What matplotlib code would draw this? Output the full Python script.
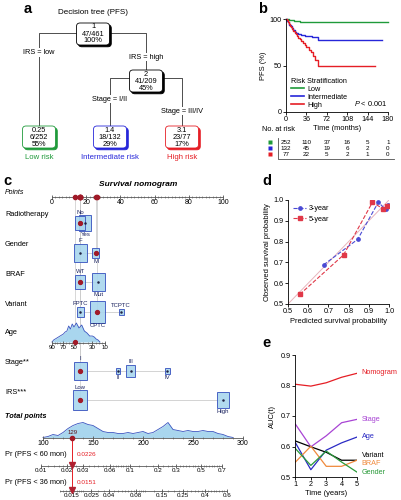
import numpy as np
import matplotlib
matplotlib.use("Agg")
import matplotlib.pyplot as plt
from matplotlib.patches import FancyBboxPatch, Rectangle
from matplotlib.lines import Line2D

plt.rcParams["font.family"] = ["Liberation Sans", "DejaVu Sans"]
plt.rcParams["mathtext.fontset"] = "custom"
plt.rcParams["mathtext.it"] = "Liberation Sans:italic"
plt.rcParams["mathtext.rm"] = "Liberation Sans"
plt.rcParams["font.size"] = 5.2
plt.rcParams["axes.linewidth"] = 0.6
for k in ("xtick", "ytick"):
    plt.rcParams[k + ".major.width"] = 0.6
    plt.rcParams[k + ".major.size"] = 2
    plt.rcParams[k + ".major.pad"] = 1.2
    plt.rcParams[k + ".labelsize"] = 5.2
plt.rcParams["axes.labelsize"] = 5.4
plt.rcParams["axes.labelpad"] = 1.5

W, H = 401, 500

# ---- a: decision tree ----
tree_ids = ["1", "2", "0.25", "1.4", "3.1"]
tree_events = ["47/461", "41/209", "6/252", "18/132", "23/77"]
tree_share = ["100%", "45%", "55%", "29%", "17%"]
tree_splits = ["IRS = low", "IRS = high", "Stage = I/II", "Stage = III/IV"]
risk_groups = ["Low risk", "Intermediate risk", "High risk"]

# ---- b: Kaplan-Meier PFS ----
km_low_t = [0, 2, 5, 9, 14, 18, 24, 180]
km_low_s = [100, 99.6, 99.2, 98.8, 98.0, 97.6, 97.2, 97.2]
km_int_t = [0, 2, 4, 6, 8, 10, 12, 15, 18, 22, 27, 33, 45, 57, 170]
km_int_s = [100, 98, 96.5, 94, 92, 90, 88, 86, 84.5, 83.5, 82.5, 81.5, 80.5, 77.5, 77.5]
km_high_t = [0, 1, 3, 5, 7, 9, 11, 13, 15, 17, 19, 21, 24, 27, 30, 33, 36, 40, 44, 48, 52, 57, 157]
km_high_s = [100, 98.5, 97, 95, 93, 91, 89, 87, 85, 84, 82, 80, 78, 76, 74, 72, 70, 67, 64, 60, 56, 50, 50]
risk_times = [0, 36, 72, 108, 144, 180]
at_risk_low = [252, 110, 37, 16, 5, 1]
at_risk_int = [132, 45, 19, 6, 2, 0]
at_risk_high = [77, 22, 5, 2, 1, 0]

# ---- c: nomogram ----
nomo_vars = ["Radiotherapy", "Gender", "BRAF", "Variant", "Stage**", "IRS***"]
nomo_levels = [["No", "Yes"], ["F", "M"], ["WT", "Mut"], ["FPTC", "CPTC", "TCPTC"],
               ["I", "II", "III", "IV"], ["Low", "High"]]
nomo_points = [[16.5, 19.5], [16.5, 25.5], [16.5, 27.0], [16.5, 26.5, 40.5],
               [16.5, 38.5, 46.0, 67.5], [16.5, 100.0]]
nomo_freq = [[0.34, 0.50], [0.56, 0.17], [0.34, 0.56], [0.17, 0.77, 0.085],
             [0.56, 0.06, 0.25, 0.06], [0.63, 0.50]]
nomo_selected = ["No", "M", "WT", "CPTC", "I", "Low"]
age_ticks = [90, 70, 50, 30, 10]
age_tick_points = [0, 6.3, 13.2, 23.6, 31.0]
age_bins = [18, 21, 24, 27, 30, 33, 36, 39, 42, 45, 48, 51, 54, 57, 60,
            63, 66, 69, 72, 75, 78, 81, 84, 87, 90]
age_counts = [0, 2, 3, 5, 6, 6, 9, 11, 17, 14, 19, 15, 18, 13, 16,
              11, 10, 8, 7, 6, 5, 4, 3, 2, 0]
patient_age = 50
total_bins = [100, 105, 110, 115, 120, 125, 130, 135, 140, 145, 150, 155, 160,
              165, 170, 175, 180, 185, 190, 195, 200, 205, 210, 215, 220, 225,
              230, 235, 240, 245, 250, 255, 260, 265, 270, 275, 280, 285, 290]
total_density = [0, 1, 3, 2, 5, 9, 12, 14, 15, 13, 12, 9, 6, 5, 5, 4, 4, 5, 4,
                 5, 6, 4, 5, 8, 11, 15, 8, 7, 6, 7, 6, 6, 7, 6, 6, 4, 3, 1, 0]
total_ticks = [100, 150, 200, 250, 300]
patient_total = 129
pr60_ticks = [0.01, 0.02, 0.03, 0.06, 0.1, 0.2, 0.3, 0.5, 0.7]
pr36_ticks = [0.015, 0.025, 0.04, 0.08, 0.15, 0.25, 0.4, 0.6]
patient_pr60 = 0.0226
patient_pr36 = 0.0151
lp_slope = 0.02644  # cloglog units per total point

# ---- d: calibration ----
cal3_pred = [0.676, 0.845, 0.947, 0.983, 0.993]
cal3_obs = [0.688, 0.811, 0.989, 0.955, 0.974]
cal5_pred = [0.558, 0.775, 0.918, 0.972, 0.988]
cal5_obs = [0.546, 0.736, 0.989, 0.957, 0.973]

# ---- e: time-dependent AUC ----
auc_years = [1, 2, 3, 4, 5]
auc_names = ["Nomogram", "Stage", "Age", "Variant", "BRAF", "Gender"]
auc_nomogram = [0.804, 0.798, 0.809, 0.827, 0.840]
auc_stage = [0.673, 0.599, 0.635, 0.678, 0.689]
auc_age = [0.612, 0.524, 0.588, 0.612, 0.631]
auc_variant = [0.618, 0.599, 0.581, 0.555, 0.555]
auc_braf = [0.549, 0.601, 0.535, 0.535, 0.555]
auc_gender = [0.593, 0.538, 0.585, 0.549, 0.516]

GREEN, BLUE, RED = "#1f9a3a", "#2626d9", "#e51e25"


def box(x0, y0, x1, y1):
    # pixel rectangle (origin top-left) -> figure fraction
    return [x0 / W, 1 - y1 / H, (x1 - x0) / W, (y1 - y0) / H]


fig = plt.figure(figsize=(W / 100, H / 100), dpi=100)

# =============== a ===============
ax_a = fig.add_axes(box(0, 0, 265, 165))
ax_a.set_xlim(0, 265)
ax_a.set_ylim(165, 0)
ax_a.axis("off")
ax_a.text(93, 13, "Decision tree (PFS)", ha="center", va="center", fontsize=5.8)

node_xy = [(93, 34), (146, 81), (39, 137), (110, 137), (182, 137)]
node_col = ["black", "black", GREEN, BLUE, RED]
edges = [(0, 2, 33), (0, 1, 33), (1, 3, 78), (1, 4, 78)]
split_frac = [0.21, 0.65, 0.44, 0.69]  # where each split label sits on its branch
for (a, b, yh), lab, fr in zip(edges, tree_splits, split_frac):
    xa, ya = node_xy[a]
    xb, yb = node_xy[b]
    ytop = yb - 11
    ax_a.plot([xa, xb, xb], [yh, yh, ytop], color="0.3", lw=0.7, zorder=1)
    ax_a.text(xb, yh + fr * (ytop - yh), lab, ha="center", va="center", fontsize=5.3,
              zorder=2, bbox=dict(fc="white", ec="none", pad=0.6))

for (x, y), c, i, e, s in zip(node_xy, node_col, tree_ids, tree_events, tree_share):
    w, h = 33, 22
    ax_a.add_patch(FancyBboxPatch((x - w / 2 + 1.8, y - h / 2 + 1.8), w, h,
                                  boxstyle="round,pad=0,rounding_size=3.5",
                                  fc=c, ec=c, lw=0.6, zorder=3))
    ax_a.add_patch(FancyBboxPatch((x - w / 2, y - h / 2), w, h,
                                  boxstyle="round,pad=0,rounding_size=3.5",
                                  fc="white", ec=c, lw=0.6, zorder=4))
    ax_a.text(x, y, f"{i}\n{e}\n{s}", ha="center", va="center", fontsize=5.3,
              linespacing=1.0, zorder=5)

for (x, y), c, name in zip(node_xy[2:], node_col[2:], risk_groups):
    ax_a.text(x, 157, name, ha="center", va="center", color=c, fontsize=5.6)

# =============== b ===============
ax_b = fig.add_axes(box(286, 19, 388, 112))
for t, s, c in [(km_low_t, km_low_s, GREEN), (km_int_t, km_int_s, BLUE),
                (km_high_t, km_high_s, RED)]:
    ax_b.step(t, s, where="post", color=c, lw=1.0, clip_on=False)
ax_b.set_xlim(0, 180)
ax_b.set_ylim(0, 100)
ax_b.set_xticks(risk_times)
ax_b.set_yticks([0, 50, 100])
ax_b.spines[["top", "right"]].set_visible(False)
ax_b.set_xlabel("Time (months)", labelpad=1)
ax_b.set_ylabel("PFS (%)", labelpad=2)
handles = [Line2D([], [], color=c, lw=1.2) for c in (GREEN, BLUE, RED)]
ax_b.legend(handles, ["Low", "Intermediate", "High"], title="Risk Stratification",
            loc="lower left", bbox_to_anchor=(0.0, -0.02), frameon=False,
            fontsize=5.2, title_fontsize=5.2, handlelength=1.8, handletextpad=0.4,
            labelspacing=0.12, borderpad=0.2, alignment="left")
ax_b.text(0.99, 0.09, r"$P$ < 0.001", transform=ax_b.transAxes, ha="right",
          va="center", fontsize=5.3)

mpm = 102 / 180  # px per month
ax_rt = fig.add_axes(box(262, 136, 395, 161))
ax_rt.set_xlim(-24 / mpm, 109 / mpm)
ax_rt.set_ylim(161, 136)
ax_rt.axis("off")
ax_rt.text(-24 / mpm, 130, "No. at risk", ha="left", va="center", fontsize=5.3)
for yy, row, c in zip([142, 148.2, 154.4], [at_risk_low, at_risk_int, at_risk_high],
                      [GREEN, BLUE, RED]):
    ax_rt.plot(-16 / mpm, yy, marker="s", ms=3.3, color=c, mec="none", clip_on=False)
    for t, n in zip(risk_times, row):
        ax_rt.text(t, yy, str(n), ha="center", va="center", fontsize=4.5)
ax_rt.plot([-8 / mpm, -8 / mpm, 108 / mpm], [138, 158.8, 158.8], color="0.3", lw=0.6,
           clip_on=False)

# =============== c ===============
PT0, PTS = 52, 1.71  # px of 0 points, px per point


def px2pt(px):
    return (px - PT0) / PTS


def tot2x(t):
    return px2pt(43 + (np.asarray(t, float) - 100))


def cll(p):
    p = np.asarray(p, float)
    return np.log(-np.log(1 - p))


def pr2x(p, p_ref):
    return tot2x(patient_total + (cll(p) - cll(p_ref)) / lp_slope)


def age2x(a):
    return np.interp(a, age_ticks[::-1], age_tick_points[::-1])


def draw_scale(ax, y, major, labels, minor, size=4.6):
    lo, hi = min(np.min(major), np.min(minor)), max(np.max(major), np.max(minor))
    ax.plot([lo, hi], [y, y], color="0.35", lw=0.6, zorder=2)
    ax.vlines(minor, y - 1.0, y + 1.0, color="0.35", lw=0.4, zorder=2)
    ax.vlines(major, y - 1.8, y + 1.8, color="0.35", lw=0.6, zorder=2)
    for x, lab in zip(major, labels):
        ax.text(x, y + 2.2, lab, ha="center", va="top", fontsize=size, zorder=2)


ax_n = fig.add_axes(box(0, 172, 262, 500))
ax_n.set_xlim(px2pt(0), px2pt(262))
ax_n.set_ylim(500, 172)
ax_n.axis("off")
BOX_FC, BOX_EC, DOT = "#a9d6ee", "#3a55c0", "#a01a28"
LBL = "#1c2460"

ax_n.text(px2pt(138), 185, "Survival nomogram", ha="center", va="center",
          fontsize=6.0, fontweight="bold", fontstyle="italic")
ax_n.text(px2pt(5), 193, "Points", ha="left", va="center", fontsize=5.0,
          fontstyle="italic")
draw_scale(ax_n, 197, list(range(0, 101, 20)), [str(v) for v in range(0, 101, 20)],
           np.arange(0, 101, 2), size=5.0)

row_y = [223, 253, 282, 312, 371, 400]
sel_points = []
for var, levels, pts, freq, sel, y in zip(nomo_vars, nomo_levels, nomo_points,
                                          nomo_freq, nomo_selected, row_y):
    ax_n.text(px2pt(5), y - 8, var, ha="left", va="center", fontsize=5.3)
    ax_n.plot([min(pts), max(pts)], [y, y], color="0.8", lw=0.6, zorder=1)
    for i, (lev, p, f) in enumerate(zip(levels, pts, freq)):
        w, h = 17 * np.sqrt(f) / PTS, 24 * np.sqrt(f)
        ax_n.add_patch(Rectangle((p - w / 2, y - h / 2), w, h, fc=BOX_FC, ec=BOX_EC,
                                 lw=0.7, alpha=0.9, zorder=3 + (lev == sel)))
        if lev == sel:
            ax_n.plot(p, y, "o", color=DOT, ms=2.8, zorder=6)
            ax_n.vlines(p, 197, y, color="0.78", lw=0.5, zorder=0)
            sel_points.append(p)
        else:
            ax_n.plot(p, y, "o", color="#222244", ms=0.8, zorder=6)
        if i % 2 == 0:
            ax_n.text(p, y - h / 2 - 0.8, lev, ha="center", va="bottom", fontsize=4.3,
                      color=LBL, zorder=7)
        else:
            ax_n.text(p, y + h / 2 + 0.8, lev, ha="center", va="top", fontsize=4.3,
                      color=LBL, zorder=7)

# age row with density
age_y = 343
ax_n.text(px2pt(5), age_y - 10, "Age", ha="left", va="center", fontsize=5.3)
ax_n.fill_between(age2x(age_bins), age_y - 1, age_y - 1 - np.array(age_counts),
                  color=BOX_FC, lw=0, zorder=1)
ax_n.plot(age2x(age_bins), age_y - 1 - np.array(age_counts), color=BOX_EC, lw=0.6,
          zorder=2)
draw_scale(ax_n, age_y, age2x(age_ticks), [str(a) for a in age_ticks],
           age2x(np.arange(10, 91, 5)), size=4.4)
ax_n.plot(age2x(patient_age), age_y - 1, "o", color=DOT, ms=2.8, zorder=6)
ax_n.vlines(age2x(patient_age), 197, age_y, color="0.78", lw=0.5, zorder=0)
sel_points.append(age2x(patient_age))
ax_n.plot(sel_points, [197] * len(sel_points), "o", color=DOT, ms=3.0, zorder=6,
          clip_on=False)

# total points
tot_y = 438
ax_n.text(px2pt(5), 416, "Total points", ha="left", va="center", fontsize=5.3,
          fontweight="bold", fontstyle="italic")
ax_n.fill_between(tot2x(total_bins), tot_y - 0.5, tot_y - 0.5 - np.array(total_density),
                  color=BOX_FC, lw=0, zorder=1)
ax_n.plot(tot2x(total_bins), tot_y - 0.5 - np.array(total_density), color=BOX_EC,
          lw=0.6, zorder=2)
draw_scale(ax_n, tot_y, tot2x(total_ticks), [str(t) for t in total_ticks],
           tot2x(np.arange(100, 301, 10)), size=5.0)

# probability scales
pr60_y, pr36_y = 466, 491
ax_n.text(px2pt(5), pr60_y - 11, "Pr (PFS < 60 mon)", ha="left", va="center",
          fontsize=5.3)
ax_n.text(px2pt(5), pr36_y - 9, "Pr (PFS < 36 mon)", ha="left", va="center",
          fontsize=5.3)
pr60_minor = np.r_[np.arange(0.01, 0.02, 0.002), np.arange(0.02, 0.1, 0.005),
                   np.arange(0.1, 0.701, 0.025)]
pr36_minor = np.r_[np.arange(0.011, 0.02, 0.001), np.arange(0.02, 0.1, 0.005),
                   np.arange(0.1, 0.601, 0.025)]
draw_scale(ax_n, pr60_y, pr2x(pr60_ticks, patient_pr60), [str(p) for p in pr60_ticks],
           pr2x(pr60_minor, patient_pr60), size=4.5)
draw_scale(ax_n, pr36_y, pr2x(pr36_ticks, patient_pr36), [str(p) for p in pr36_ticks],
           pr2x(pr36_minor, patient_pr36), size=4.5)

xt = tot2x(patient_total)
ax_n.vlines(xt, tot_y, pr36_y, color=RED, lw=0.7, zorder=5)
ax_n.plot(xt, tot_y - 0.5, "o", color=DOT, ms=3.0, zorder=6)
ax_n.text(xt + 0.3, tot_y - 3.5, str(patient_total), ha="center", va="bottom",
          fontsize=4.3, color="#5a1018", zorder=6)
ax_n.plot([xt, xt], [pr60_y - 1.5, pr36_y - 1.5], "v", color="#b02030", ms=3.8,
          zorder=6)
ax_n.text(xt + 3, pr60_y - 11, f"{patient_pr60}", ha="left", va="center",
          fontsize=4.6, color=RED)
ax_n.text(xt + 3, pr36_y - 9, f"{patient_pr36}", ha="left", va="center",
          fontsize=4.6, color=RED)

# =============== d ===============
ax_d = fig.add_axes(box(288, 200, 389, 304))
ax_d.plot([0.5, 1.0], [0.5, 1.0], color="#e8b4bc", lw=0.7)
ax_d.plot(cal3_pred, cal3_obs, "--", color="#4a4ad4", lw=0.8, marker="o", ms=2.4,
          label="3-year")
ax_d.plot(cal5_pred, cal5_obs, "--", color="#e03848", lw=0.8, marker="s", ms=2.4,
          label="5-year")
ax_d.set_xlim(0.5, 1.0)
ax_d.set_ylim(0.5, 1.0)
ax_d.set_xticks(np.arange(0.5, 1.01, 0.1))
ax_d.set_yticks(np.arange(0.5, 1.01, 0.1))
ax_d.xaxis.set_major_formatter(plt.FormatStrFormatter("%.1f"))
ax_d.yaxis.set_major_formatter(plt.FormatStrFormatter("%.1f"))
ax_d.spines[["top", "right"]].set_visible(False)
ax_d.set_xlabel("Predicted survival probability", labelpad=2)
ax_d.set_ylabel("Observed survival probability", labelpad=2)
ax_d.legend(loc="upper left", frameon=False, fontsize=5.2, handlelength=1.8,
            handletextpad=0.4, labelspacing=0.5, borderaxespad=0.3)

# =============== e ===============
ax_e = fig.add_axes(box(295, 355, 357, 477))
auc_series = [auc_nomogram, auc_stage, auc_age, auc_variant, auc_braf, auc_gender]
auc_colors = [RED, "#a844d4", "#2a2ac4", "black", "#f08a3c", "#2a9a3a"]
auc_label_y = [0.841, 0.690, 0.634, 0.569, 0.543, 0.516]
for name, vals, c, ly in zip(auc_names, auc_series, auc_colors, auc_label_y):
    ax_e.plot(auc_years, vals, color=c, lw=0.9)
    ax_e.text(5.3, ly, name, color=c, ha="left", va="center", fontsize=5.2)
ax_e.set_xlim(0.97, 5.0)
ax_e.set_ylim(0.5, 0.9)
ax_e.set_xticks(auc_years)
ax_e.set_yticks([0.5, 0.6, 0.7, 0.8, 0.9])
ax_e.yaxis.set_major_formatter(plt.FormatStrFormatter("%.1f"))
ax_e.spines[["top", "right"]].set_visible(False)
ax_e.set_xlabel("Time (years)", labelpad=1)
ax_e.set_ylabel("AUC(t)", labelpad=3)

# panel letters
for lab, x, y in [("a", 24, 9), ("b", 258, 9), ("c", 3, 181), ("d", 262, 181),
                  ("e", 262, 343)]:
    fig.text(x / W, 1 - y / H, lab, fontsize=10.5, fontweight="bold", ha="left",
             va="center")

fig.savefig("out.png", dpi=100)
